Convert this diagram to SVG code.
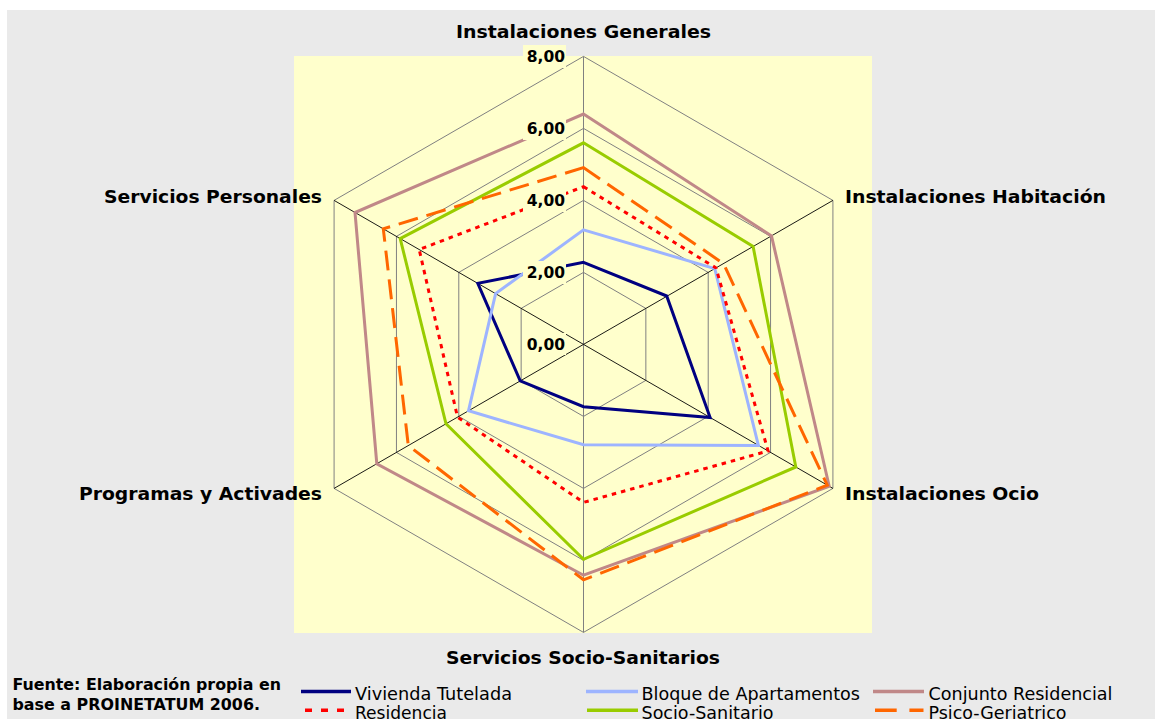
<svg xmlns="http://www.w3.org/2000/svg" width="1155" height="719" viewBox="0 0 1155 719">
<style>
.ax{font-family:"DejaVu Sans",Verdana,sans-serif;font-weight:bold;font-size:18px;fill:#000}
.tk{font-family:"DejaVu Sans",Verdana,sans-serif;font-weight:bold;font-size:15.5px;fill:#000;text-anchor:end}
.lg{font-family:"DejaVu Sans",Verdana,sans-serif;font-size:17.4px;fill:#000}
.src{font-family:"DejaVu Sans",Verdana,sans-serif;font-weight:bold;font-size:15px;fill:#000}
.ring{fill:none;stroke:#808080;stroke-width:1}
.spk{stroke:#000;stroke-width:0.9}
.spkv{stroke:#808080;stroke-width:1}
.s{fill:none;stroke-width:3;stroke-linejoin:miter}
.viv{stroke:#000080}
.blo{stroke:#9DB4FF}
.con{stroke:#C08888}
.res{stroke:#FF0000;stroke-dasharray:4.5 5}
.soc{stroke:#99CC00}
.psi{stroke:#FF6600;stroke-dasharray:20 9}
.tb{fill:#FFFFCC}
</style>
<rect x="0" y="0" width="1155" height="719" fill="#FFFFFF"/>
<rect x="7" y="10" width="1148" height="709" fill="#EAEAEA"/>
<rect x="294" y="56" width="578" height="577" fill="#FFFFCC"/>
<g id="grid" transform="translate(583.5,344.4)">
<polygon class="ring" points="0,-72 62.35,-36 62.35,36 0,72 -62.35,36 -62.35,-36"/>
<polygon class="ring" points="0,-144 124.71,-72 124.71,72 0,144 -124.71,72 -124.71,-72"/>
<polygon class="ring" points="0,-216 187.06,-108 187.06,108 0,216 -187.06,108 -187.06,-108"/>
<polygon class="ring" points="0,-288 249.42,-144 249.42,144 0,288 -249.42,144 -249.42,-144"/>
<line class="spkv" x1="0" y1="0" x2="0" y2="-288"/>
<line class="spkv" x1="0" y1="0" x2="0" y2="288"/>
<line class="spk" x1="0" y1="0" x2="249.42" y2="-144"/>
<line class="spk" x1="0" y1="0" x2="249.42" y2="144"/>
<line class="spk" x1="0" y1="0" x2="-249.42" y2="144"/>
<line class="spk" x1="0" y1="0" x2="-249.42" y2="-144"/>
</g>
<g id="series" transform="translate(583.5,344.4)">
<polygon id="vivienda" class="s viv" points="0,-82.1 83.2,-48.4 126.6,73.1 0,62.3 -63.3,36.5 -105.7,-61"/>
<polygon id="bloque" class="s blo" points="0,-114.5 131.3,-75.8 174.9,101 0,100.4 -115,66.4 -87.9,-50.8"/>
<polygon id="conjunto" class="s con" points="0,-230.4 188,-108.5 245.7,141.8 0,230.8 -206.7,119.3 -228.5,-131.9"/>
<polygon id="residencia" class="s res" points="0,-157.7 132.5,-76.5 184.6,106.6 0,158 -126,72.7 -164.3,-94.9"/>
<polygon id="sociosan" class="s soc" points="0,-201.6 169.6,-97.9 212.3,122.6 0,214.9 -137.5,79.4 -183.3,-105.8"/>
<polygon id="psico" class="s psi" points="0,-176.8 140,-80.8 243.8,140.8 0,235.4 -175.2,101.2 -200.2,-115.6"/>
</g>
<g id="ticks">
<rect class="tb" x="523" y="45" width="43" height="23"/>
<rect class="tb" x="523" y="117" width="43" height="23"/>
<rect class="tb" x="523" y="189" width="43" height="23"/>
<rect class="tb" x="523" y="261" width="43" height="23"/>
<rect class="tb" x="523" y="333" width="43" height="22"/>
<text class="tk" x="565" y="62.3">8,00</text>
<text class="tk" x="565" y="134">6,00</text>
<text class="tk" x="565" y="206">4,00</text>
<text class="tk" x="565" y="278">2,00</text>
<text class="tk" x="565" y="350">0,00</text>
</g>
<g id="axis-labels">
<text id="lbl-gen" class="ax" x="456" y="38" textLength="255" lengthAdjust="spacingAndGlyphs">Instalaciones Generales</text>
<text id="lbl-hab" class="ax" x="845" y="202.5" textLength="261" lengthAdjust="spacingAndGlyphs">Instalaciones Habitación</text>
<text id="lbl-ocio" class="ax" x="845" y="500" textLength="194" lengthAdjust="spacingAndGlyphs">Instalaciones Ocio</text>
<text id="lbl-soc" class="ax" x="446" y="663.5" textLength="274" lengthAdjust="spacingAndGlyphs">Servicios Socio-Sanitarios</text>
<text id="lbl-prog" class="ax" x="79" y="500" textLength="243" lengthAdjust="spacingAndGlyphs">Programas y Activades</text>
<text id="lbl-pers" class="ax" x="104" y="202.5" textLength="218" lengthAdjust="spacingAndGlyphs">Servicios Personales</text>
</g>
<g id="source">
<text class="src" x="12.5" y="690" textLength="268.5" lengthAdjust="spacingAndGlyphs">Fuente: Elaboración propia en</text>
<text class="src" x="12.5" y="710" textLength="247.5" lengthAdjust="spacingAndGlyphs">base a PROINETATUM 2006.</text>
</g>
<g id="legend">
<line x1="301" y1="691.5" x2="351" y2="691.5" stroke="#000080" stroke-width="3.5"/>
<text class="lg" x="355" y="700" textLength="157" lengthAdjust="spacingAndGlyphs">Vivienda Tutelada</text>
<line x1="586" y1="691.5" x2="638" y2="691.5" stroke="#9DB4FF" stroke-width="3.5"/>
<text class="lg" x="641.5" y="700" textLength="218.5" lengthAdjust="spacingAndGlyphs">Bloque de Apartamentos</text>
<line x1="873" y1="691.5" x2="924" y2="691.5" stroke="#C08888" stroke-width="3.5"/>
<text class="lg" x="928.5" y="700" textLength="184" lengthAdjust="spacingAndGlyphs">Conjunto Residencial</text>
<line x1="305" y1="710.3" x2="346" y2="710.3" stroke="#FF0000" stroke-width="3.5" stroke-dasharray="7 9"/>
<text class="lg" x="355" y="719" textLength="92" lengthAdjust="spacingAndGlyphs">Residencia</text>
<line x1="587" y1="710.3" x2="638" y2="710.3" stroke="#99CC00" stroke-width="3.5"/>
<text class="lg" x="641.5" y="719" textLength="132" lengthAdjust="spacingAndGlyphs">Socio-Sanitario</text>
<line x1="875" y1="710.3" x2="923.5" y2="710.3" stroke="#FF6600" stroke-width="3.5" stroke-dasharray="21.7 12.7"/>
<text class="lg" x="928.5" y="719" textLength="138" lengthAdjust="spacingAndGlyphs">Psico-Geriatrico</text>
</g>
</svg>
